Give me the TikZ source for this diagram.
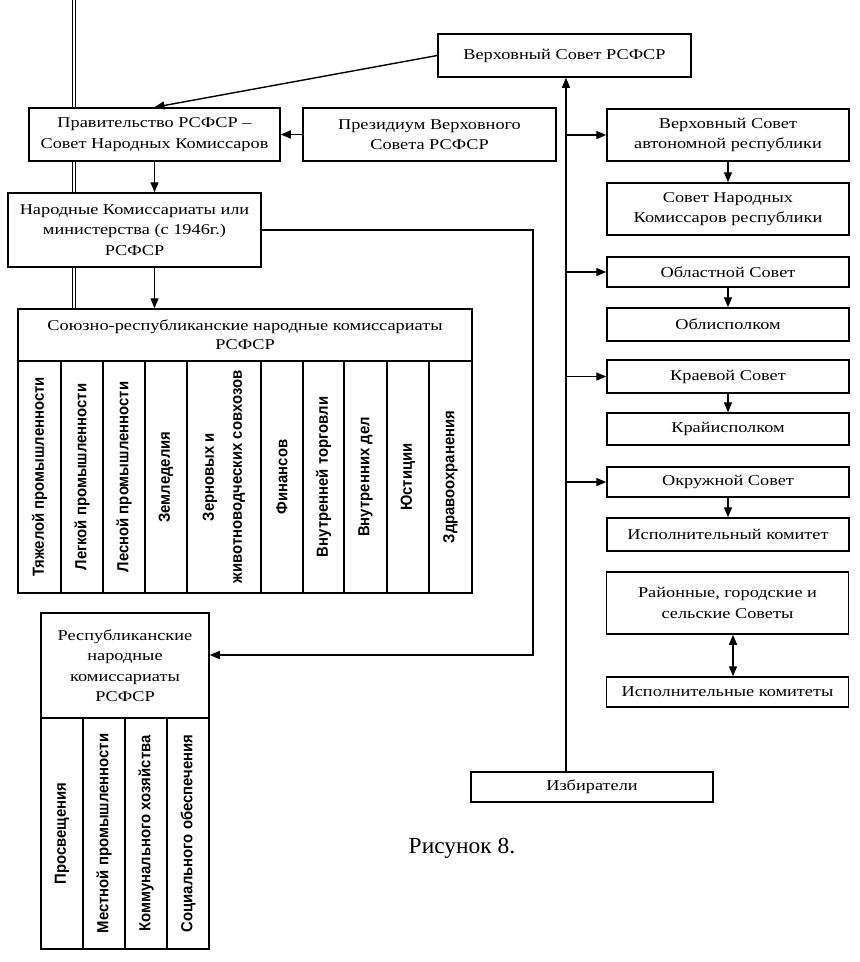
\documentclass[tikz,border=0pt]{standalone}
\usepackage{fontspec}
\setmainfont[FakeStretch=1.22]{Liberation Serif}
\newfontfamily\capfont[FakeStretch=1.02]{Liberation Serif}
\newfontfamily\colfont[FakeStretch=0.93]{Liberation Sans}
\usetikzlibrary{arrows.meta,positioning}

\begin{document}
\begin{tikzpicture}[x=1pt,y=-1pt,
		box/.style={draw, fill=white, line width=1.5pt, align=center, inner sep=2pt, font=\fontsize{15}{20.5}\selectfont},
		rbox/.style={box, minimum width=242pt},
		colbox/.style={draw, fill=white, line width=1.5pt, align=center, inner sep=1pt, rotate=90, font=\colfont\bfseries\fontsize{16}{28}\selectfont},
		link/.style={line width=1.4pt, -{Triangle[length=10pt,width=8pt]}},
		both/.style={line width=1.4pt, {Triangle[length=10pt,width=8pt]}-{Triangle[length=10pt,width=8pt]}}]
		\useasboundingbox (0,0) rectangle (860,962);
		\fill[white] (0,0) rectangle (860,962);
		\coordinate (R1) at (74,0);
		\coordinate (R2) at (74,309);
		\draw[line width=0.7pt, double, double distance=2.2pt] (R1)--(R2);
		\node[box, minimum width=253pt, minimum height=43pt] (vs) at (564.5,55.5) {Верховный Совет РСФСР};
		\node[box, minimum width=251pt, minimum height=53pt] (prav) at (154.5,134.5) {Правительство РСФСР --\\Совет Народных Комиссаров};
		\node[box, minimum width=253pt, minimum height=53pt] (prez) at (429.5,134.5) {Президиум Верховного\\Совета РСФСР};
		\node[box, minimum width=253pt, minimum height=74pt] (nk) at (134.5,230) {Народные Комиссариаты или\\министерства (с 1946г.)\\РСФСР};
		\node[box, minimum width=454pt, minimum height=52pt, font=\fontsize{15}{19}\selectfont] (sr) at (245,335) {Союзно-республиканские народные комиссариаты\\РСФСР};
		\node[colbox, minimum width=232pt, minimum height=43pt] (sr1) at (39.5,477) {Тяжелой промышленности};
		\node[colbox, minimum width=232pt, minimum height=42pt] (sr2) at (82,477) {Легкой промышленности};
		\node[colbox, minimum width=232pt, minimum height=42pt] (sr3) at (124,477) {Лесной промышленности};
		\node[colbox, minimum width=232pt, minimum height=42pt] (sr4) at (166,477) {Земледелия};
		\node[colbox, minimum width=232pt, minimum height=74pt] (sr5) at (224,477) {Зерновых и\\животноводческих совхозов};
		\node[colbox, minimum width=232pt, minimum height=42pt] (sr6) at (282,477) {Финансов};
		\node[colbox, minimum width=232pt, minimum height=41pt] (sr7) at (323.5,477) {Внутренней торговли};
		\node[colbox, minimum width=232pt, minimum height=43pt] (sr8) at (365.5,477) {Внутренних дел};
		\node[colbox, minimum width=232pt, minimum height=42pt] (sr9) at (408,477) {Юстиции};
		\node[colbox, minimum width=232pt, minimum height=43pt] (sr10) at (450.5,477) {Здравоохранения};
		\node[box, minimum width=168pt, minimum height=105pt] (rk) at (125,665.5) {Республиканские\\народные\\комиссариаты\\РСФСР};
		\node[colbox, minimum width=231pt, minimum height=42pt] (rk1) at (62,833.5) {Просвещения};
		\node[colbox, minimum width=231pt, minimum height=42pt] (rk2) at (104,833.5) {Местной промышленности};
		\node[colbox, minimum width=231pt, minimum height=42pt] (rk3) at (146,833.5) {Коммунального хозяйства};
		\node[colbox, minimum width=231pt, minimum height=42pt] (rk4) at (188,833.5) {Социального обеспечения};
		\node[rbox, minimum height=52pt] (vsa) at (728,135) {Верховный Совет\\автономной республики};
		\node[rbox, minimum height=52pt] (snk) at (728,209) {Совет Народных\\Комиссаров республики};
		\node[rbox, minimum height=30pt] (obl) at (728,272) {Областной Совет};
		\node[rbox, minimum height=33pt] (oblisp) at (728,324.5) {Облисполком};
		\node[rbox, minimum height=33pt] (kr) at (728,376.5) {Краевой Совет};
		\node[rbox, minimum height=32pt] (krisp) at (728,429) {Крайисполком};
		\node[rbox, minimum height=30pt] (okr) at (728,482) {Окружной Совет};
		\node[rbox, minimum height=33pt] (isp) at (728,534.5) {Исполнительный комитет};
		\node[rbox, minimum height=62pt] (ray) at (727.5,603) {Районные, городские и\\сельские Советы};
		\node[rbox, minimum height=30pt] (ispk) at (727.5,692) {Исполнительные комитеты};
		\node[rbox, minimum height=30pt] (izb) at (592,787) {Избиратели};
		\node[font=\capfont\fontsize{23}{27}\selectfont] (cap) at (462,848) {Рисунок 8.};
		\coordinate (T) at (566,772);
		\coordinate (K) at (533,655);
		\draw[link] (vs.west)--(prav.north);
		\draw[link] (prez.west)--(prav.east);
		\draw[link] (prav.south)--(prav.south |- nk.north);
		\draw[link] (prav.south |- nk.south)--(prav.south |- sr.north);
		\draw[link] (nk.east) -| (K)--(K -| rk.east);
		\draw[link] (T)--(T |- vs.south);
		\draw[link] (T |- vsa.west)--(vsa.west);
		\draw[link] (T |- obl.west)--(obl.west);
		\draw[link] (T |- kr.west)--(kr.west);
		\draw[link] (T |- okr.west)--(okr.west);
		\draw[link] (vsa.south)--(snk.north);
		\draw[link] (obl.south)--(oblisp.north);
		\draw[link] (kr.south)--(krisp.north);
		\draw[link] (okr.south)--(isp.north);
		\draw[both] ([xshift=5.5pt]ray.south)--([xshift=5.5pt]ispk.north);
	\end{tikzpicture}
\end{document}
